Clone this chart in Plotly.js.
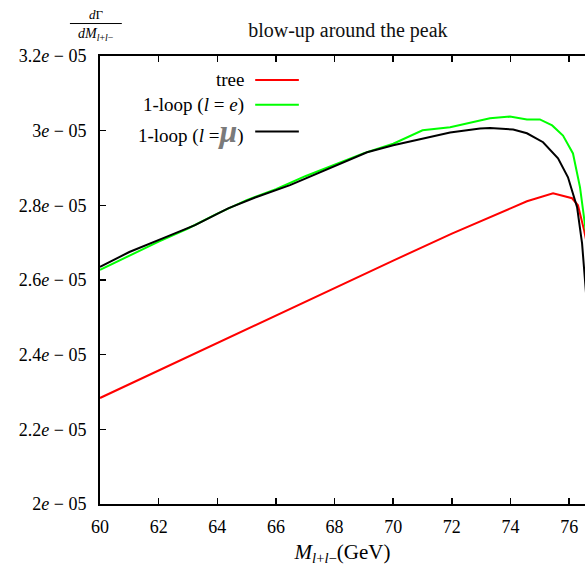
<!DOCTYPE html>
<html>
<head>
<meta charset="utf-8">
<script src="https://cdn.plot.ly/plotly-3.0.1.min.js"></script>
<style>html,body{margin:0;padding:0;background:#fff;}</style>
</head>
<body>
<div id="chart" style="width:585px;height:566px;"></div>
<script>
// Invariant mass M_{l+l-} (GeV)
const xTree = [60, 62, 64, 66, 68, 70, 72, 73, 74, 74.56, 75.45, 76.1, 76.3, 76.51, 76.62];
const yTree = [2.284e-5, 2.358e-5, 2.432e-5, 2.505e-5, 2.578e-5, 2.652e-5, 2.724e-5, 2.759e-5, 2.792e-5, 2.811e-5, 2.832e-5, 2.819e-5, 2.800e-5, 2.733e-5, 2.690e-5];

const xLoopE = [60, 61, 62, 63, 64, 65, 66, 67, 68, 69, 70, 71, 71.94, 73.3, 73.98, 74.56, 75.0, 75.42, 75.79, 76.13, 76.37, 76.54, 76.62];
const yLoopE = [2.627e-5, 2.665e-5, 2.703e-5, 2.738e-5, 2.778e-5, 2.814e-5, 2.843e-5, 2.878e-5, 2.910e-5, 2.940e-5, 2.965e-5, 3.001e-5, 3.009e-5, 3.033e-5, 3.038e-5, 3.030e-5, 3.030e-5, 3.014e-5, 2.987e-5, 2.939e-5, 2.848e-5, 2.752e-5, 2.700e-5];

const xLoopMu = [60, 61, 62.22, 63.24, 64.37, 65.29, 66.48, 69.11, 70, 71, 71.94, 72.96, 73.3, 74.09, 74.56, 75.11, 75.62, 75.96, 76.27, 76.44, 76.54, 76.62];
const yLoopMu = [2.635e-5, 2.675e-5, 2.714e-5, 2.747e-5, 2.792e-5, 2.821e-5, 2.854e-5, 2.942e-5, 2.961e-5, 2.979e-5, 2.995e-5, 3.006e-5, 3.007e-5, 3.003e-5, 2.993e-5, 2.969e-5, 2.926e-5, 2.875e-5, 2.795e-5, 2.698e-5, 2.591e-5, 2.520e-5];

const xTicks = [60, 62, 64, 66, 68, 70, 72, 74, 76];
const yTickVals = [2.0e-5, 2.2e-5, 2.4e-5, 2.6e-5, 2.8e-5, 3.0e-5, 3.2e-5];
const yTickText = ['2<i>e</i> − 05', '2.2<i>e</i> − 05', '2.4<i>e</i> − 05', '2.6<i>e</i> − 05', '2.8<i>e</i> − 05', '3<i>e</i> − 05', '3.2<i>e</i> − 05'];

const seriesNames = ['tree', '1-loop (<i>l</i> = <i>e</i>)', '1-loop (<i>l</i> =<span style="font-size:32px;color:#7a7a7a"><b><i>μ</i></b></span>)'];
const seriesColors = ['#ff0000', '#00ff00', '#000000'];

const FONT = 'Liberation Serif, DejaVu Serif, serif';

const traces = [
  {x: xTree, y: yTree, mode: 'lines', line: {color: seriesColors[0], width: 2}, showlegend: false},
  {x: xLoopE, y: yLoopE, mode: 'lines', line: {color: seriesColors[1], width: 2}, showlegend: false},
  {x: xLoopMu, y: yLoopMu, mode: 'lines', line: {color: seriesColors[2], width: 2}, showlegend: false}
];

// manual legend (text left of line sample, as in the reference)
const legRowsY = [0.9465, 0.891, 0.8317];
const annotations = [];
const shapes = [];
for (let i = 0; i < seriesNames.length; i++) {
  annotations.push({xref: 'paper', yref: 'paper', x: 0.301, y: legRowsY[i], xanchor: 'right', yanchor: 'middle',
    text: seriesNames[i], showarrow: false, font: {family: FONT, size: 19, color: '#000'}});
  shapes.push({type: 'line', xref: 'paper', yref: 'paper', x0: 0.320, x1: 0.410, y0: legRowsY[i], y1: legRowsY[i],
    line: {color: seriesColors[i], width: 2}});
}
// y-axis label as a fraction dΓ / dM
annotations.push({xref: 'paper', yref: 'paper', x: -0.008, y: 1.0935, xanchor: 'center', yanchor: 'middle',
  text: '<i>d</i>Γ', showarrow: false, font: {family: FONT, size: 13, color: '#000'}});
annotations.push({xref: 'paper', yref: 'paper', x: -0.008, y: 1.049, xanchor: 'center', yanchor: 'middle',
  text: '<i>dM</i><sub><i>l</i>+<i>l</i>−</sub>', showarrow: false, font: {family: FONT, size: 14, color: '#000'}});
shapes.push({type: 'line', xref: 'paper', yref: 'paper', x0: -0.062, x1: 0.045, y0: 1.0725, y1: 1.0725,
  line: {color: '#000', width: 1}});

const layout = {
  width: 585, height: 566,
  margin: {l: 100, r: 0, t: 55.5, b: 62, pad: 0},
  paper_bgcolor: '#fff', plot_bgcolor: '#fff',
  font: {family: FONT, size: 18, color: '#000'},
  title: {text: 'blow-up around the peak', font: {family: FONT, size: 20, color: '#111'},
    xref: 'paper', x: 0.511, xanchor: 'center', yref: 'container', y: 0.947, yanchor: 'middle'},
  xaxis: {range: [60, 76.54], tickvals: xTicks, ticks: 'inside', ticklen: 6, tickwidth: 1.5, tickcolor: '#000',
    showline: true, linecolor: '#000', linewidth: 2, mirror: 'ticks', showgrid: false, zeroline: false,
    ticklabelstandoff: 5, tickfont: {family: FONT, size: 18, color: '#000'},
    title: {text: '<i>M</i><sub><i>l</i>+<i>l</i>−</sub>(GeV)', font: {family: FONT, size: 21, color: '#000'}, standoff: 18}},
  yaxis: {range: [2.0e-5, 3.2e-5], tickvals: yTickVals, ticktext: yTickText, ticks: 'inside', ticklen: 6, tickwidth: 1.5,
    tickcolor: '#000', showline: true, linecolor: '#000', linewidth: 2, mirror: false, showgrid: false, zeroline: false,
    ticklabelstandoff: 8, tickfont: {family: FONT, size: 18, color: '#000'}},
  annotations: annotations,
  shapes: shapes
};

Plotly.newPlot('chart', traces, layout, {displayModeBar: false, staticPlot: true});
</script>
</body>
</html>
